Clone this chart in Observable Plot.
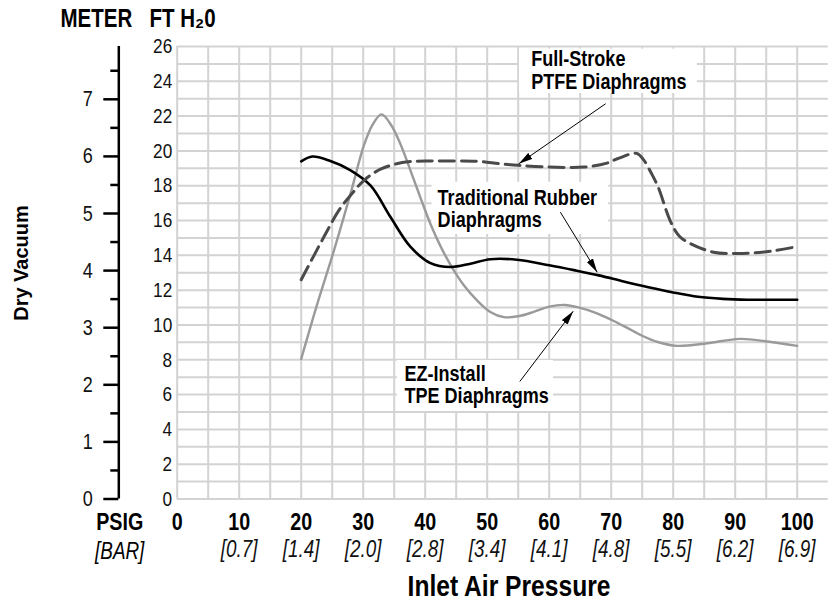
<!DOCTYPE html>
<html>
<head>
<meta charset="utf-8">
<script src="https://cdn.jsdelivr.net/npm/d3@7"></script>
<script src="https://cdn.jsdelivr.net/npm/@observablehq/plot@0.6"></script>
<style>
  html, body { margin: 0; padding: 0; background: #fff; }
  #chart svg { display: block; }
</style>
</head>
<body>
<div id="chart"></div>
<script>
// ---------- data ----------
const psigTicks = [0, 10, 20, 30, 40, 50, 60, 70, 80, 90, 100];
const barLabels = ["", "[0.7]", "[1.4]", "[2.0]", "[2.8]", "[3.4]", "[4.1]", "[4.8]", "[5.5]", "[6.2]", "[6.9]"];
const ftTicks = [0, 2, 4, 6, 8, 10, 12, 14, 16, 18, 20, 22, 24, 26];
const meterMajor = [0, 1, 2, 3, 4, 5, 6, 7];
const meterMinor = [0.5, 1.5, 2.5, 3.5, 4.5, 5.5, 6.5, 7.5];
const FT_PER_M = 3.28084;

// Traditional Rubber Diaphragms [psig, ft H2O]
const traditionalRubber = [
  [20, 19.4], [21.8, 19.68], [24.5, 19.45], [27.9, 18.9], [31.2, 18.0], [34.4, 16.2],
  [37.6, 14.5], [40.85, 13.55], [44.1, 13.33], [47.3, 13.52], [50.5, 13.78], [54.8, 13.75],
  [60, 13.43], [64, 13.15], [68, 12.85], [72, 12.5], [76, 12.17], [80, 11.87],
  [84, 11.62], [88, 11.5], [92, 11.45], [96, 11.45], [100, 11.45]
];
// Full-Stroke PTFE Diaphragms
const fullStrokePTFE = [
  [20, 12.6], [23.65, 15.05], [26.1, 16.6], [28.2, 17.55], [30.1, 18.3], [32.8, 18.95],
  [36.3, 19.33], [40, 19.42], [44.6, 19.42], [48.5, 19.4], [52.1, 19.26], [55.1, 19.17],
  [60, 19.08], [65.6, 19.07], [69.3, 19.3], [71, 19.55], [74.1, 19.86], [75.2, 19.5],
  [76.5, 18.7], [77.6, 17.9], [79.5, 16.0], [81, 15.1], [82.8, 14.67], [86.5, 14.18],
  [90, 14.1], [92.5, 14.13], [96, 14.25], [100, 14.5]
];
// EZ-Install TPE Diaphragms
const ezInstallTPE = [
  [20, 8.05], [22.5, 11.1], [25.3, 14.3], [28, 17.6], [30.1, 20.3], [31.5, 21.5],
  [32.95, 22.1], [34.4, 21.55], [36, 20.4], [37.6, 18.9], [39.2, 17.35], [40.85, 15.8],
  [42.5, 14.5], [44.35, 13.3], [46.2, 12.3], [48.4, 11.4], [50.5, 10.75], [52.7, 10.45],
  [55, 10.5], [57.5, 10.75], [60, 11.05], [62.5, 11.15], [65, 10.98], [67.5, 10.7],
  [70, 10.3], [72.5, 9.85], [75, 9.38], [77.5, 9.02], [80.6, 8.8], [85.5, 8.95],
  [90.8, 9.2], [95.2, 9.05], [100, 8.8]
];

// annotations (data units: psig, ft H2O)
const annotationLabels = [
  {text: "Full-Stroke\nPTFE Diaphragms", x: 57.1, y: 24.63},
  {text: "Traditional Rubber\nDiaphragms", x: 42.0, y: 16.68},
  {text: "EZ-Install\nTPE Diaphragms", x: 36.66, y: 6.57}
];
const annotationBoxes = [
  {x1: 55.2, x2: 83.9, y1: 23.3, y2: 25.85},
  {x1: 41.1, x2: 69.6, y1: 15.2, y2: 18.2},
  {x1: 35.5, x2: 60.7, y1: 5.03, y2: 7.96}
];
const annotationArrows = [
  {x1: 69.1, y1: 22.71, x2: 55.1, y2: 19.26},
  {x1: 61.8, y1: 16.48, x2: 67.74, y2: 13.03},
  {x1: 55.26, y1: 6.75, x2: 63.87, y2: 10.79}
];

const xDomain = [0, 105];
const yDomain = [0, 26];
const gridX = d3.range(0, 101, 5);
const gridY = d3.range(0, 27, 1);

// ---------- chart ----------
const FONT = '"Liberation Sans", Arial, Helvetica, sans-serif';
const toPts = (arr) => arr.map(([x, y]) => ({x, y}));
const barMap = new Map(psigTicks.map((d, i) => [d, barLabels[i]]));
const METER_DX = -58.4;

const chart = Plot.plot({
  width: 828,
  height: 603,
  marginLeft: 176.7,
  marginRight: 0.3,
  marginTop: 46,
  marginBottom: 104.5,
  style: {fontFamily: FONT, background: "#fff", color: "#000", overflow: "visible"},
  x: {domain: xDomain, label: null},
  y: {domain: yDomain, label: null},
  marks: [
    Plot.ruleX(gridX, {stroke: "#d3d3d3", strokeWidth: 2}),
    Plot.ruleY(gridY, {stroke: "#d3d3d3", strokeWidth: 2}),
    Plot.rect(annotationBoxes, {x1: "x1", x2: "x2", y1: "y1", y2: "y2", fill: "#fff"}),

    // FT H2O axis
    Plot.axisY(ftTicks, {anchor: "left", tickSize: 0, tickPadding: 5, fontSize: 21, fill: "#111"}),
    // METER axis
    Plot.ruleX([0], {y1: yDomain[0], y2: yDomain[1], dx: METER_DX, stroke: "#000", strokeWidth: 2.5}),
    Plot.axisY(meterMajor.map(m => m * FT_PER_M), {
      anchor: "left", dx: METER_DX, tickSize: 15, tickPadding: 11, strokeWidth: 2.5,
      fontSize: 22, fill: "#111", tickFormat: d => String(Math.round(d / FT_PER_M))
    }),
    Plot.axisY(meterMinor.map(m => m * FT_PER_M), {
      anchor: "left", dx: METER_DX, tickSize: 8, strokeWidth: 2.5, tickFormat: () => ""
    }),

    // PSIG axis
    Plot.axisX(psigTicks, {anchor: "bottom", tickSize: 0, tickPadding: 14, fontSize: 24, fontWeight: "bold", fill: "#000"}),
    Plot.axisX(psigTicks.slice(1), {
      anchor: "bottom", tickSize: 0, tickPadding: 42, fontSize: 23, fontStyle: "italic", fill: "#111",
      tickFormat: d => barMap.get(d)
    }),
    Plot.text(["PSIG"], {frameAnchor: "bottom-left", lineAnchor: "middle", dx: -57.5, dy: 23.5, fontSize: 24, fontWeight: "bold", textAnchor: "middle"}),
    Plot.text(["[BAR]"], {frameAnchor: "bottom-left", lineAnchor: "middle", dx: -57.5, dy: 53, fontSize: 23, fontStyle: "italic", textAnchor: "middle"}),
    Plot.text(["Inlet Air Pressure"], {frameAnchor: "bottom", lineAnchor: "middle", dx: 6.3, dy: 87.5, fontSize: 30, fontWeight: "bold", textAnchor: "middle"}),

    // left titles
    Plot.text(["Dry Vacuum"], {frameAnchor: "left", lineAnchor: "middle", dx: -155.7, dy: -9.75, rotate: -90, fontSize: 20, fontWeight: "bold", textAnchor: "middle", className: "no-squeeze"}),
    Plot.text(["METER"], {frameAnchor: "top-left", lineAnchor: "middle", dx: -116.7, dy: -28, fontSize: 25, fontWeight: "bold", textAnchor: "start"}),
    Plot.text(["FT H\u20820"], {frameAnchor: "top-left", lineAnchor: "middle", dx: -27.7, dy: -28, fontSize: 25, fontWeight: "bold", textAnchor: "start"}),

    // curves
    Plot.line(toPts(ezInstallTPE), {x: "x", y: "y", stroke: "#9a9a9a", strokeWidth: 2.4, curve: "catmull-rom"}),
    Plot.line(toPts(traditionalRubber), {x: "x", y: "y", stroke: "#000", strokeWidth: 2.6, curve: "catmull-rom"}),
    Plot.line(toPts(fullStrokePTFE), {x: "x", y: "y", stroke: "#4a4a4a", strokeWidth: 3, strokeDasharray: "15,7", curve: "catmull-rom"}),

    // annotations
    Plot.text(annotationLabels, {x: "x", y: "y", text: "text", textAnchor: "start", lineAnchor: "middle", lineHeight: 1.03, fontSize: 22, fontWeight: "bold", fill: "#000"}),
    Plot.link(annotationArrows, {x1: "x1", y1: "y1", x2: "x2", y2: "y2", stroke: "#000", strokeWidth: 1, className: "ann-arrow"})
  ]
});

// filled arrowheads for annotation leaders
const svg = d3.select(chart);
const defs = svg.insert("defs", ":first-child");
defs.append("marker")
  .attr("id", "ann-head")
  .attr("viewBox", "0 -4 14 8")
  .attr("refX", 14).attr("refY", 0)
  .attr("markerWidth", 14).attr("markerHeight", 8)
  .attr("markerUnits", "userSpaceOnUse")
  .attr("orient", "auto")
  .append("path").attr("d", "M0,-3.6L14,0L0,3.6Z").attr("fill", "#000");
svg.selectAll("g.ann-arrow path").attr("marker-end", "url(#ann-head)");

document.getElementById("chart").appendChild(chart);

// condensed lettering: squeeze glyphs horizontally (Helvetica Condensed look)
const SQUEEZE = 0.82;
chart.querySelectorAll("text").forEach(t => {
  if (t.closest(".no-squeeze")) return;
  const spans = t.querySelectorAll("tspan");
  const targets = spans.length ? Array.from(spans) : [t];
  targets.forEach(el => {
    const len = el.getComputedTextLength();
    if (len > 0) {
      el.setAttribute("textLength", (len * SQUEEZE).toFixed(2));
      el.setAttribute("lengthAdjust", "spacingAndGlyphs");
    }
  });
});
</script>
</body>
</html>
